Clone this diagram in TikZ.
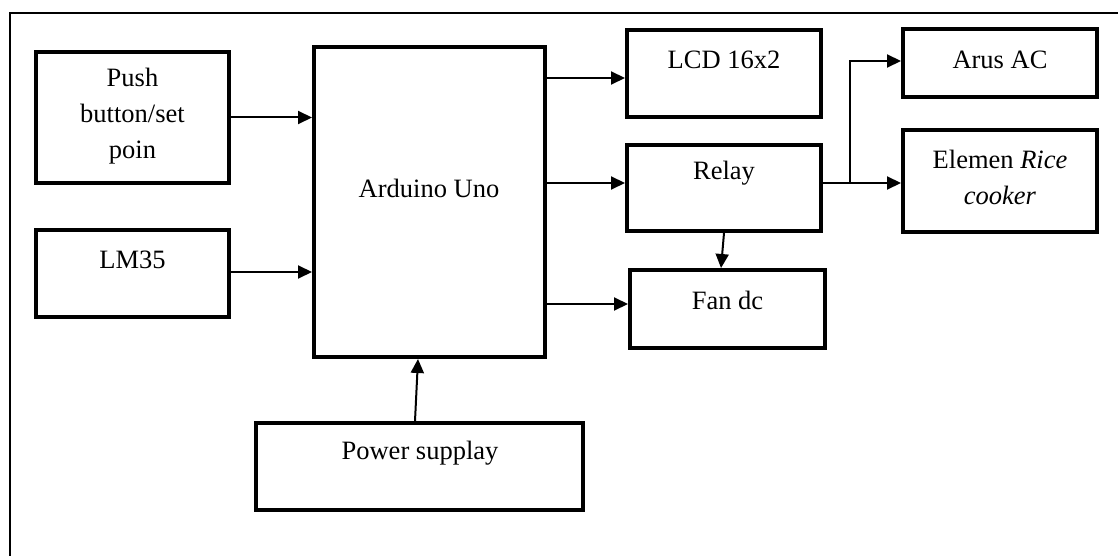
\documentclass[tikz,border=0pt]{standalone}
\usepackage{fontspec}
\setmainfont{Liberation Serif}
\usetikzlibrary{arrows.meta,calc}
\begin{document}
\begin{tikzpicture}[x=1pt,y=-1pt,
  box/.style={draw,line width=4pt,rectangle,inner sep=0pt},
  txt/.style={align=center,inner sep=0pt,font=\fontsize{26.5}{36}\selectfont},
  arr/.style={line width=2pt,-{Triangle[length=14pt,width=13pt]}},
  frame/.style={line width=2.2pt}]
\useasboundingbox (0,0) rectangle (1118,556);
% outer frame (left and top edges visible)
\coordinate (fTL) at (10,13);
\coordinate (fBL) at (10,556);
\coordinate (fTR) at (1118,13);
\draw[frame] (fBL) -- (fTL) -- (fTR);
% boxes
\node[box,minimum width=193,minimum height=131] (push) at (132.5,117.5) {};
\node[box,minimum width=193,minimum height=87] (lm) at (132.5,273.5) {};
\node[box,minimum width=231,minimum height=310] (ard) at (429.5,202) {};
\node[box,minimum width=327,minimum height=87] (pow) at (419.5,466.5) {};
\node[box,minimum width=194,minimum height=87] (lcd) at (724,73.5) {};
\node[box,minimum width=194,minimum height=86] (rel) at (724,188) {};
\node[box,minimum width=195,minimum height=78] (fan) at (727.5,309) {};
\node[box,minimum width=194,minimum height=68] (arus) at (1000,63) {};
\node[box,minimum width=194,minimum height=102] (elem) at (1000,181) {};
% texts
\node[txt] (pushT) at (132.5,116) {Push\\button/set\\poin};
\node[txt] (lmT) at (132.5,260) {LM35};
\node[txt] (ardT) at (429,188) {Arduino Uno};
\node[txt] (powT) at (420,453) {Power supplay};
\node[txt] (lcdT) at (724,60) {LCD 16x2};
\node[txt] (relT) at (724,173) {Relay};
\node[txt] (fanT) at (727.5,300) {Fan dc};
\node[txt] (arusT) at (1000,60) {Arus AC};
\node[txt] (elemT) at (1000,177) {Elemen \textit{Rice}\\\textit{cooker}};
% connectors
\draw[arr] (push.east) -- (push.east -| ard.west);
\draw[arr] ([yshift=1.5]lm.east) -- ([yshift=1.5]lm.east -| ard.west);
\draw[arr] ([yshift=-4.5]ard.east |- lcd.west) -- ([yshift=-4.5]lcd.west);
\draw[arr] ([yshift=5]ard.east |- rel.west) -- ([yshift=5]rel.west);
\draw[arr] ([yshift=5]ard.east |- fan.west) -- ([yshift=5]fan.west);
\draw[arr] (rel.south) -- ([xshift=-6.5]fan.north);
\draw[arr] ([xshift=-4.5]pow.north) -- ([xshift=-11.5]ard.south);
\coordinate (br) at (850,183);
\draw[arr] ([yshift=5]rel.east) -- ([yshift=-2]elem.west);
\draw[arr] (br) |- ([yshift=2]arus.west);
\end{tikzpicture}
\end{document}
